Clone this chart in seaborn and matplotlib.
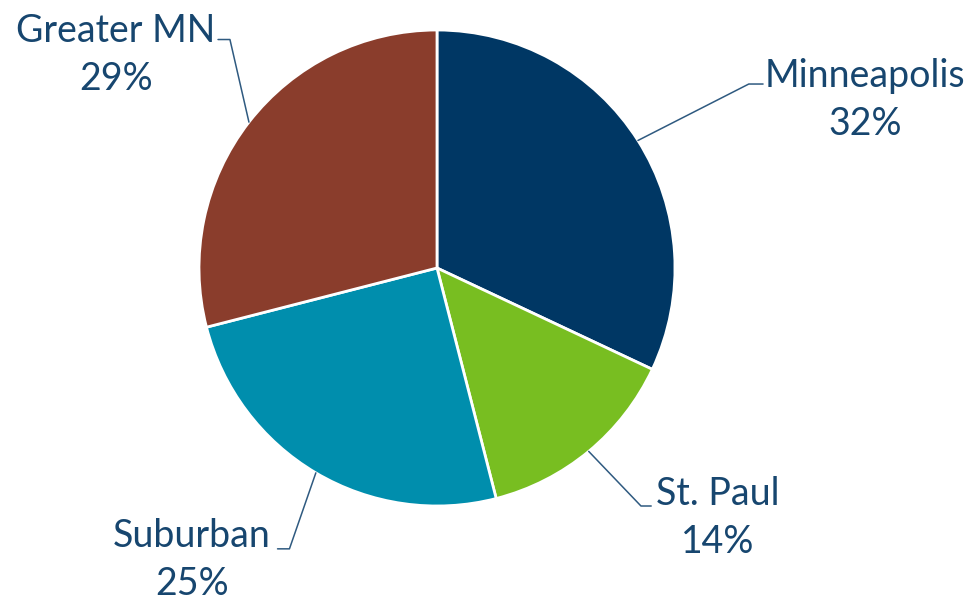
import numpy as np
import matplotlib
matplotlib.use('Agg')
import matplotlib.pyplot as plt
import seaborn as sns

# Data
regions = ['Minneapolis', 'St. Paul', 'Suburban', 'Greater MN']
shares = [32, 14, 25, 29]
colors = ['#003764', '#78BE21', '#008EAD', '#8A3D2C']

# label layout (data coords, pie radius = 1)
label_pos = [(1.80, 0.705), (1.18, -1.05), (-1.03, -1.228), (-1.35, 0.895)]
elbow_pts = [(1.31, 0.773), (0.857, -1.0), (-0.62, -1.18), (-0.87, 0.96)]
end_pts = [(1.37, 0.773), (0.90, -1.0), (-0.67, -1.18), (-0.92, 0.96)]

text_color = '#17466F'

sns.set_theme(style='white')
plt.rcParams['font.family'] = ['Lato', 'DejaVu Sans']

fig = plt.figure(figsize=(9.77, 6.04), dpi=100)
ax = fig.add_axes([0, 0, 1, 1])

wedges, _ = ax.pie(shares, colors=colors, startangle=90, counterclock=False,
                   radius=1, center=(0, 0),
                   wedgeprops=dict(edgecolor='white', linewidth=2))

# leader lines from wedge midpoints
cum = np.cumsum([0] + shares)
total = sum(shares)
for i, (name, val) in enumerate(zip(regions, shares)):
    mid = 90 - (cum[i] + val / 2) / total * 360
    x0, y0 = np.cos(np.radians(mid)), np.sin(np.radians(mid))
    ex, ey = elbow_pts[i]
    tx, ty = end_pts[i]
    ax.plot([x0, ex, tx], [y0, ey, ty], color='#2F5A80', linewidth=1.1)
    lx, ly = label_pos[i]
    ax.text(lx, ly, f"{name}\n{val}%", ha='center', va='center',
            fontsize=27, color=text_color, linespacing=1.4)

s = 238.0
ax.set_xlim(-437 / s, (977 - 437) / s)
ax.set_ylim(-(604 - 268) / s, 268 / s)
ax.set_aspect('equal')
ax.axis('off')

fig.savefig('out.png', dpi=100)
